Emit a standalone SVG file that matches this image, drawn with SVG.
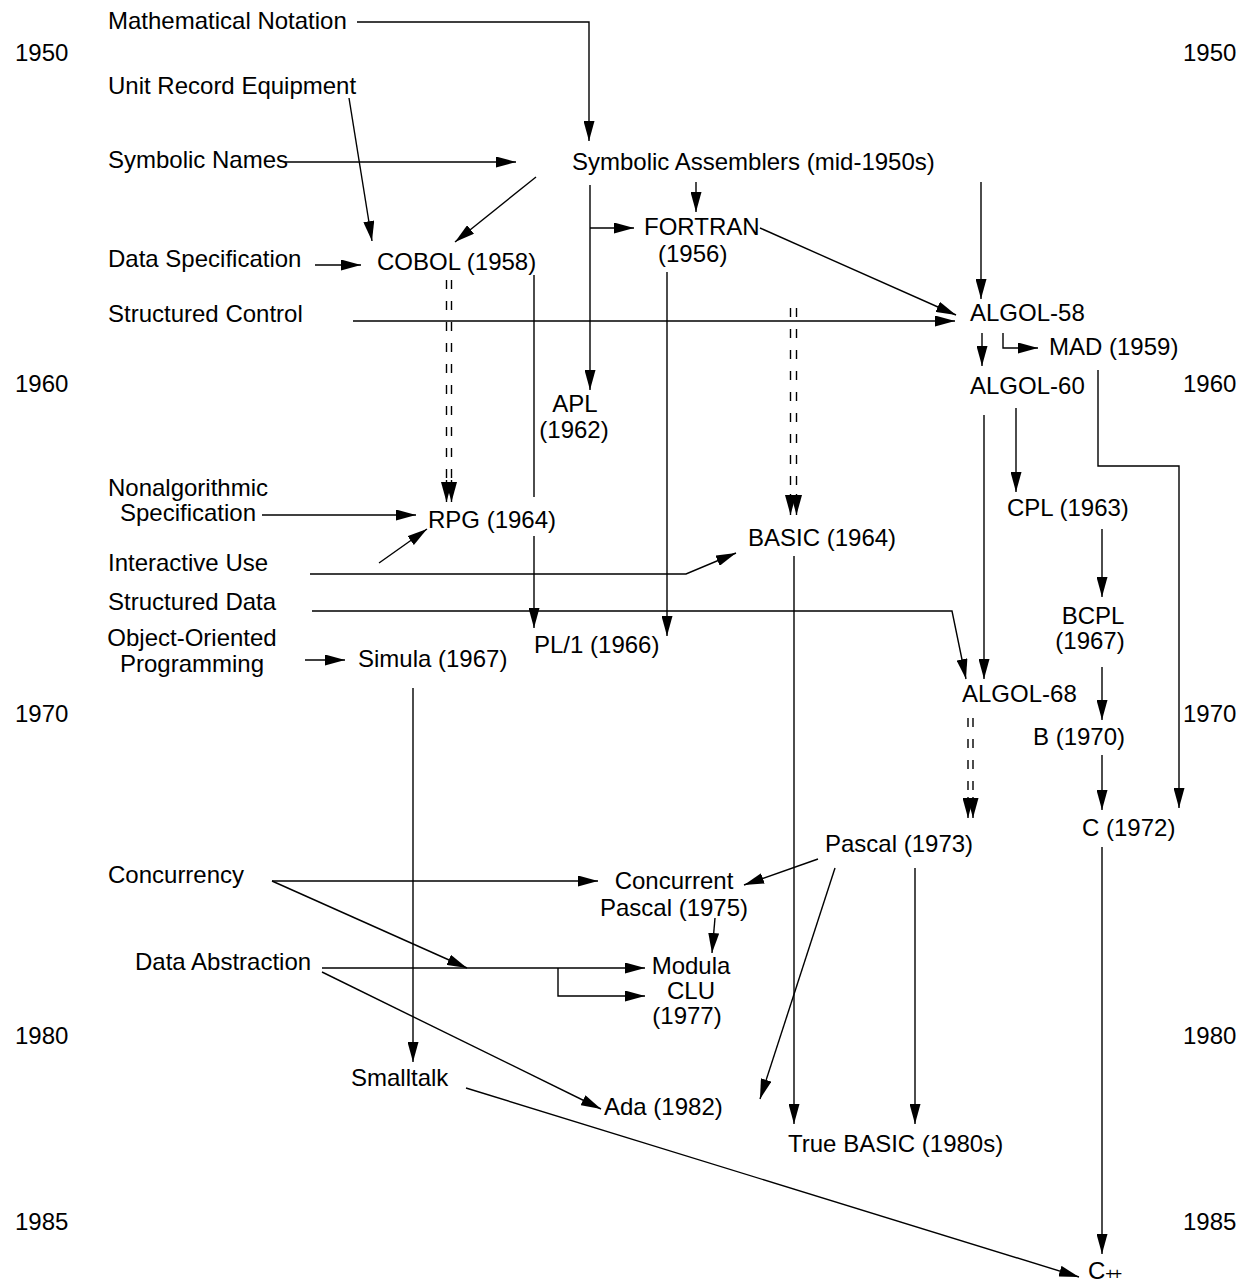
<svg xmlns="http://www.w3.org/2000/svg" width="1240" height="1283" viewBox="0 0 1240 1283">
<style>
text{font-family:"Liberation Sans",Arial,Helvetica,sans-serif;font-size:24px;fill:#000}
.c{text-anchor:middle}
.ln{fill:none;stroke:#000;stroke-width:1.4}
.ar{marker-end:url(#ah)}
.dd{stroke-dasharray:9 12}
</style>
<defs>
<marker id="ah" markerWidth="20" markerHeight="11" refX="20" refY="5.5" orient="auto" markerUnits="userSpaceOnUse">
<path d="M0,0 L20,5.5 L0,11 z" fill="#000" stroke="none"/>
</marker>
</defs>
<rect width="1240" height="1283" fill="#fff"/>
<g id="years">
<text x="15" y="61">1950</text><text x="1183" y="61">1950</text>
<text x="15" y="392">1960</text><text x="1183" y="392">1960</text>
<text x="15" y="722">1970</text><text x="1183" y="722">1970</text>
<text x="15" y="1044">1980</text><text x="1183" y="1044">1980</text>
<text x="15" y="1230">1985</text><text x="1183" y="1230">1985</text>
</g>
<g id="connectors">
<polyline class="ln ar" points="357,22 589,22 589,141"/>
<line class="ln ar" x1="349" y1="98" x2="372" y2="241"/>
<line class="ln ar" x1="285" y1="162" x2="516" y2="162"/>
<line class="ln ar" x1="536" y1="177" x2="455" y2="242"/>
<line class="ln ar" x1="696" y1="182" x2="696" y2="212"/>
<line class="ln ar" x1="590" y1="185" x2="590" y2="390"/>
<line class="ln ar" x1="590" y1="228" x2="634" y2="228"/>
<line class="ln ar" x1="760" y1="228" x2="956" y2="315"/>
<line class="ln ar" x1="981" y1="182" x2="981" y2="299"/>
<line class="ln ar" x1="315" y1="265" x2="361" y2="265"/>
<line class="ln ar" x1="353" y1="321" x2="955" y2="321"/>
<line class="ln ar" x1="982" y1="333" x2="982" y2="366"/>
<polyline class="ln ar" points="1003,333 1003,348 1038,348"/>
<line class="ln dd" x1="446.5" y1="280" x2="446.5" y2="485"/>
<line class="ln dd" x1="451.5" y1="280" x2="451.5" y2="485"/>
<line class="ln ar" x1="446.5" y1="480" x2="446.5" y2="502"/>
<line class="ln ar" x1="451.5" y1="480" x2="451.5" y2="502"/>
<line class="ln" x1="534" y1="275" x2="534" y2="497"/>
<line class="ln ar" x1="534" y1="536" x2="534" y2="628"/>
<line class="ln ar" x1="667" y1="272" x2="667" y2="636"/>
<line class="ln dd" x1="790.5" y1="308" x2="790.5" y2="498"/>
<line class="ln dd" x1="796.5" y1="308" x2="796.5" y2="498"/>
<line class="ln ar" x1="790.5" y1="494" x2="790.5" y2="515"/>
<line class="ln ar" x1="796.5" y1="494" x2="796.5" y2="515"/>
<line class="ln ar" x1="262" y1="515" x2="416" y2="515"/>
<line class="ln ar" x1="379" y1="563" x2="427" y2="529"/>
<polyline class="ln ar" points="310,574 686,574 736,553"/>
<polyline class="ln ar" points="312,611 952,611 966,679"/>
<line class="ln ar" x1="984" y1="415" x2="984" y2="679"/>
<line class="ln ar" x1="1016" y1="408" x2="1016" y2="492"/>
<polyline class="ln ar" points="1098,370 1098,466 1179,466 1179,808"/>
<line class="ln ar" x1="1102" y1="529" x2="1102" y2="597"/>
<line class="ln ar" x1="1102" y1="667" x2="1102" y2="720"/>
<line class="ln ar" x1="1102" y1="755" x2="1102" y2="810"/>
<line class="ln ar" x1="1102" y1="847" x2="1102" y2="1254"/>
<line class="ln dd" x1="968" y1="718" x2="968" y2="800"/>
<line class="ln dd" x1="973" y1="718" x2="973" y2="800"/>
<line class="ln ar" x1="968" y1="797" x2="968" y2="818"/>
<line class="ln ar" x1="973" y1="797" x2="973" y2="818"/>
<line class="ln ar" x1="305" y1="660" x2="345" y2="660"/>
<line class="ln ar" x1="413" y1="688" x2="413" y2="1062"/>
<line class="ln ar" x1="794" y1="556" x2="794" y2="1124"/>
<line class="ln ar" x1="915" y1="868" x2="915" y2="1124"/>
<line class="ln ar" x1="818" y1="859" x2="744" y2="885"/>
<line class="ln ar" x1="835" y1="868" x2="760" y2="1099"/>
<line class="ln ar" x1="272" y1="881" x2="598" y2="881"/>
<line class="ln ar" x1="272" y1="881" x2="467" y2="968"/>
<line class="ln ar" x1="322" y1="968" x2="645" y2="968"/>
<polyline class="ln ar" points="558,968 558,996 645,996"/>
<line class="ln ar" x1="322" y1="972" x2="601" y2="1109"/>
<line class="ln ar" x1="715" y1="918" x2="712" y2="953"/>
<line class="ln ar" x1="466" y1="1088" x2="1079" y2="1277"/>
</g>
<g id="math"><text x="108" y="29">Mathematical Notation</text></g>
<g id="unitrecord"><text x="108" y="94">Unit Record Equipment</text></g>
<g id="symnames"><text x="108" y="168">Symbolic Names</text></g>
<g id="symasm"><text x="572" y="170">Symbolic Assemblers (mid-1950s)</text></g>
<g id="fortran"><text x="644" y="235">FORTRAN</text><text x="658" y="262">(1956)</text></g>
<g id="dataspec"><text x="108" y="267">Data Specification</text></g>
<g id="cobol"><text x="377" y="270">COBOL (1958)</text></g>
<g id="structctl"><text x="108" y="322">Structured Control</text></g>
<g id="algol58"><text x="970" y="321">ALGOL-58</text></g>
<g id="mad"><text x="1049" y="355">MAD (1959)</text></g>
<g id="algol60"><text x="970" y="394">ALGOL-60</text></g>
<g id="apl"><text class="c" x="575" y="412">APL</text><text class="c" x="574" y="438">(1962)</text></g>
<g id="nonalg"><text class="c" x="188" y="496">Nonalgorithmic</text><text class="c" x="188" y="521">Specification</text></g>
<g id="rpg"><text x="428" y="528">RPG (1964)</text></g>
<g id="cpl"><text x="1007" y="516">CPL (1963)</text></g>
<g id="basic"><text x="748" y="546">BASIC (1964)</text></g>
<g id="interactive"><text x="108" y="571">Interactive Use</text></g>
<g id="structdata"><text x="108" y="610">Structured Data</text></g>
<g id="bcpl"><text class="c" x="1093" y="624">BCPL</text><text class="c" x="1090" y="649">(1967)</text></g>
<g id="oop"><text class="c" x="192" y="646">Object-Oriented</text><text class="c" x="192" y="672">Programming</text></g>
<g id="pl1"><text x="534" y="653">PL/1 (1966)</text></g>
<g id="simula"><text x="358" y="667">Simula (1967)</text></g>
<g id="algol68"><text x="962" y="702">ALGOL-68</text></g>
<g id="b"><text x="1033" y="745">B (1970)</text></g>
<g id="c"><text x="1082" y="836">C (1972)</text></g>
<g id="pascal"><text x="825" y="852">Pascal (1973)</text></g>
<g id="concurrency"><text x="108" y="883">Concurrency</text></g>
<g id="concpascal"><text class="c" x="674" y="889">Concurrent</text><text class="c" x="674" y="916">Pascal (1975)</text></g>
<g id="dataabs"><text x="135" y="970">Data Abstraction</text></g>
<g id="modula"><text class="c" x="691" y="974">Modula</text><text class="c" x="691" y="999">CLU</text><text class="c" x="687" y="1024">(1977)</text></g>
<g id="smalltalk"><text x="351" y="1086">Smalltalk</text></g>
<g id="ada"><text x="604" y="1115">Ada (1982)</text></g>
<g id="truebasic"><text x="788" y="1152">True BASIC (1980s)</text></g>
<g id="cpp"><text x="1088" y="1279">C<tspan font-size="17" letter-spacing="-3">++</tspan></text></g>
</svg>
